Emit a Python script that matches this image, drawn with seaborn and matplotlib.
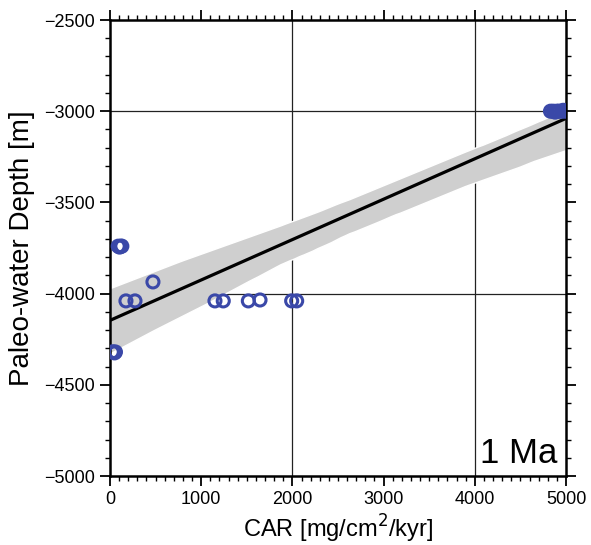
import numpy as np
import pandas as pd
import matplotlib.pyplot as plt
import seaborn as sns
from matplotlib.ticker import MultipleLocator

sns.set_style("white")
plt.rcParams['font.family'] = ['Liberation Sans', 'DejaVu Sans']
for k in ["text.color", "axes.labelcolor", "xtick.color", "ytick.color"]:
    plt.rcParams[k] = "black"

# carbonate accumulation rate vs paleo-water depth, 1 Ma
car = [25, 40, 50, 60, 90, 105, 120, 130, 471,
       175, 274, 1151, 1242, 1517, 1645, 1992, 2047,
       4830, 4860, 4880, 4900, 4920, 4950, 4970, 4990]
depth = [-4320, -4320, -4325, -4320, -3740, -3745, -3740, -3740, -3936,
         -4040, -4040, -4040, -4040, -4040, -4035, -4040, -4040,
         -3000, -3000, -3005, -3000, -3000, -3000, -2995, -3000]

df = pd.DataFrame({"CAR": car, "depth": depth})

fig = plt.figure(figsize=(5.91, 5.45), dpi=100)
ax = fig.add_axes([0.1861, 0.1266, 0.7716, 0.8367])
ax.set_xlim(0, 5000)
ax.set_ylim(-5000, -2500)

# grid
for gx in [2000, 4000]:
    ax.axvline(gx, color="#222222", lw=0.9, zorder=0)
for gy in [-3000, -4000]:
    ax.axhline(gy, color="#222222", lw=0.9, zorder=0)

sns.regplot(data=df, x="CAR", y="depth", ax=ax, scatter=False, truncate=False,
            ci=99, seed=0, color="black", line_kws={"lw": 2.3, "zorder": 3})
for coll in ax.collections:
    coll.set_facecolor("#cfcfcf")
    coll.set_alpha(1)
    coll.set_zorder(1)

sns.scatterplot(data=df, x="CAR", y="depth", ax=ax, marker="o", s=75,
                facecolor="none", edgecolor="#3a48a8", linewidth=2.2, zorder=4)

ax.set_xlim(0, 5000)
ax.set_ylim(-5000, -2500)
ax.xaxis.set_major_locator(MultipleLocator(1000))
ax.xaxis.set_minor_locator(MultipleLocator(100))
ax.yaxis.set_major_locator(MultipleLocator(500))
ax.yaxis.set_minor_locator(MultipleLocator(100))
ax.tick_params(which="major", direction="out", length=7, width=1.3, labelsize=13,
               left=True, bottom=True, right=True, top=True, pad=4)
ax.tick_params(which="minor", direction="out", length=3.5, width=1,
               left=True, bottom=True, right=True, top=True)
ax.tick_params(labelright=False, labeltop=False)
for s in ax.spines.values():
    s.set_linewidth(1.8)
    s.set_color("black")

ax.set_xlabel("CAR [mg/cm$^2$/kyr]", fontsize=17, labelpad=3)
ax.set_ylabel("Paleo-water Depth [m]", fontsize=20, labelpad=6)

ax.text(0.98, 0.028, "1 Ma", transform=ax.transAxes, ha="right", va="baseline",
        fontsize=25, zorder=6)

plt.savefig("out.png", dpi=100)
